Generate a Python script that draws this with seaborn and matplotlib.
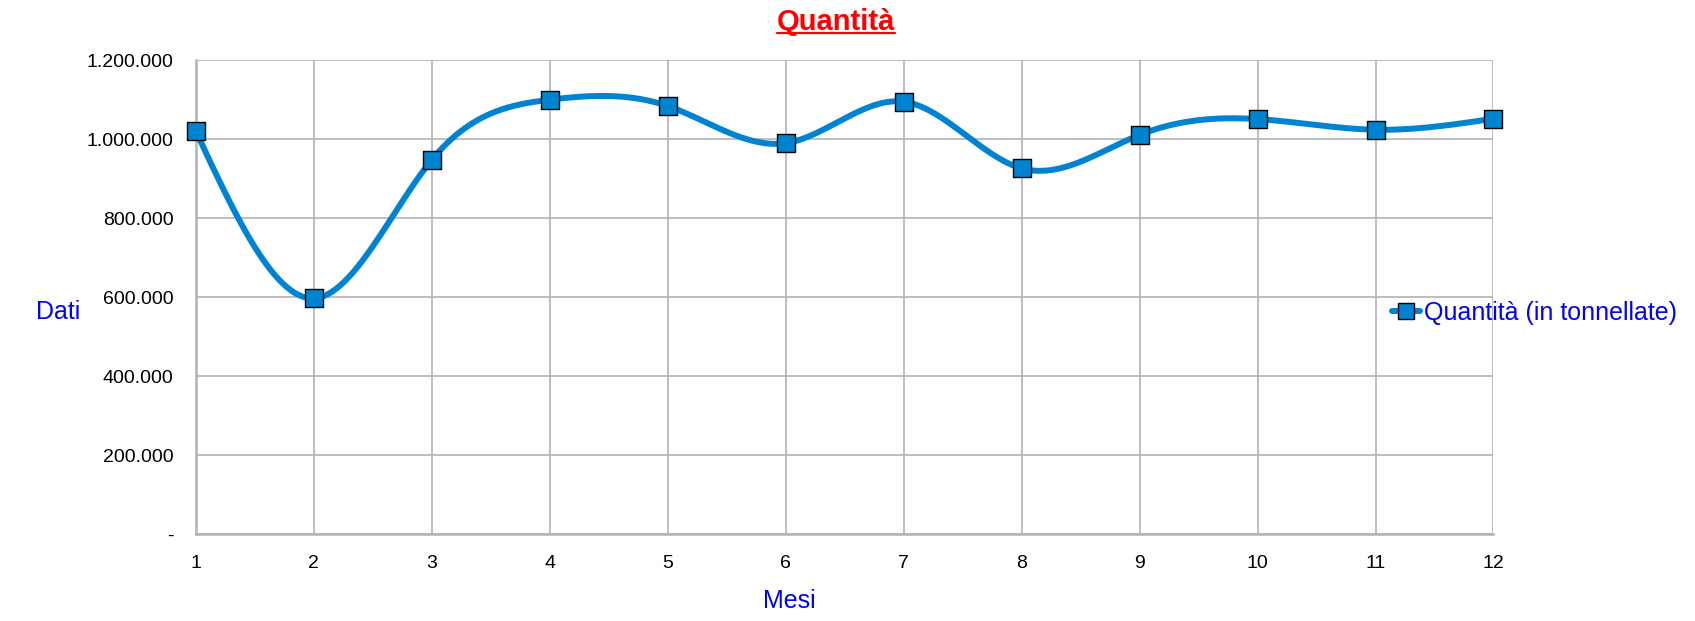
import matplotlib
matplotlib.use("Agg")
import matplotlib.pyplot as plt
import seaborn as sns
import numpy as np
import pandas as pd
from matplotlib.lines import Line2D
from matplotlib.ticker import FuncFormatter

# Data
mesi = [1, 2, 3, 4, 5, 6, 7, 8, 9, 10, 11, 12]
quantita = [1020000, 597000, 948000, 1100000, 1084000, 990000,
            1095000, 926000, 1011000, 1051000, 1024000, 1052000]
y_ticks = [0, 200000, 400000, 600000, 800000, 1000000, 1200000]

title = "Quantità"
series_name = "Quantità (in tonnellate)"
x_label = "Mesi"
y_label = "Dati"

line_color = "#0084d1"
grid_color = "#b3b3b3"


def natural_spline(x, y, xs):
    # natural cubic spline through the data points (smoothed line style)
    x = np.asarray(x, float)
    y = np.asarray(y, float)
    n = len(x)
    h = np.diff(x)
    A = np.zeros((n, n))
    b = np.zeros(n)
    A[0, 0] = A[-1, -1] = 1
    for i in range(1, n - 1):
        A[i, i - 1] = h[i - 1]
        A[i, i] = 2 * (h[i - 1] + h[i])
        A[i, i + 1] = h[i]
        b[i] = 6 * ((y[i + 1] - y[i]) / h[i] - (y[i] - y[i - 1]) / h[i - 1])
    M = np.linalg.solve(A, b)
    idx = np.clip(np.searchsorted(x, xs) - 1, 0, n - 2)
    x0, x1 = x[idx], x[idx + 1]
    hh = x1 - x0
    t0, t1 = x1 - xs, xs - x0
    return (M[idx] * t0**3 / (6 * hh) + M[idx + 1] * t1**3 / (6 * hh)
            + (y[idx] / hh - M[idx] * hh / 6) * t0
            + (y[idx + 1] / hh - M[idx + 1] * hh / 6) * t1)


df = pd.DataFrame({"mese": mesi, "quantita": quantita})
xs = np.linspace(mesi[0], mesi[-1], 600)
smooth = pd.DataFrame({"mese": xs, "quantita": natural_spline(mesi, quantita, xs)})

sns.set_style("whitegrid")
plt.rcParams["font.family"] = ["Liberation Sans", "DejaVu Sans"]

fig = plt.figure(figsize=(16.95, 6.21), dpi=100)
ax = fig.add_axes([0.1156, 0.14, 0.7655, 0.763])

sns.lineplot(data=smooth, x="mese", y="quantita", ax=ax, color=line_color,
             linewidth=4.3, legend=False, zorder=3)
sns.scatterplot(data=df, x="mese", y="quantita", ax=ax, marker="s",
                s=150, color=line_color, edgecolor="black",
                linewidth=1, zorder=4, legend=False)
for coll in ax.collections:
    coll.set_clip_on(False)

ax.set_xlim(1, 12)
ax.set_ylim(0, 1200000)
ax.set_xticks(mesi)
ax.set_yticks(y_ticks)


def fmt(v, pos):
    if v == 0:
        return "-"
    return f"{int(v):,}".replace(",", ".")


ax.yaxis.set_major_formatter(FuncFormatter(fmt))
ax.grid(True, color=grid_color, linewidth=1.2)
for s in ["top", "right"]:
    ax.spines[s].set_visible(False)
for s in ["left", "bottom"]:
    ax.spines[s].set_color(grid_color)
    ax.spines[s].set_linewidth(1.8)
ax.tick_params(axis="both", length=7, width=1.2, color=grid_color,
               labelsize=14, labelcolor="black")
ax.tick_params(axis="x", pad=8)
ax.tick_params(axis="y", pad=9)
ax.set_xlabel("")
ax.set_ylabel("")

fig.text(36 / 1695, 1 - 312 / 621, y_label, color="blue", fontsize=18,
         ha="left", va="center")
fig.text(789 / 1695, 1 - 601 / 621, x_label, color="blue", fontsize=18,
         ha="center", va="center")

handle = Line2D([], [], color=line_color, linewidth=4.3, marker="s",
                markersize=11, markerfacecolor=line_color,
                markeredgecolor="black", markeredgewidth=1)
fig.legend([handle], [series_name], loc="center left",
           bbox_to_anchor=(1392 / 1695, 1 - 313 / 621), frameon=False,
           fontsize=18, handlelength=1.1, handletextpad=0.2,
           borderpad=0, borderaxespad=0, labelcolor="blue")

# title with underline
ty = 1 - 29.5 / 621
t = fig.text(836 / 1695, ty, title, color="red", fontsize=21,
             fontweight="bold", ha="center", va="baseline")
fig.canvas.draw()
bb = t.get_window_extent().transformed(fig.transFigure.inverted())
uy = ty - 3.5 / 621
fig.add_artist(Line2D([bb.x0, bb.x1], [uy, uy], color="red", linewidth=1.6,
                      transform=fig.transFigure))

fig.savefig("out.png", dpi=100)
